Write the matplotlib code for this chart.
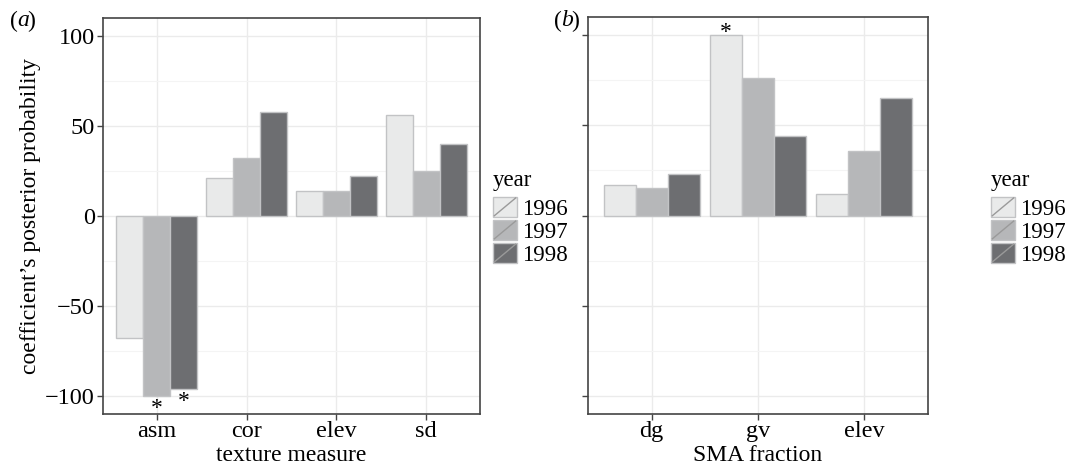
import matplotlib
matplotlib.use("Agg")
import matplotlib.pyplot as plt
import numpy as np
from matplotlib.patches import Rectangle
from matplotlib.lines import Line2D
from matplotlib.legend_handler import HandlerPatch

plt.rcParams['font.family'] = ['Liberation Serif', 'DejaVu Serif']

years = ['1996', '1997', '1998']
colors = ['#e9eaea', '#b6b7b9', '#6d6e71']
edge = '#c2c3c5'

cats_a = ['asm', 'cor', 'elev', 'sd']
vals_a = {
    '1996': [-68, 21, 14, 56],
    '1997': [-100, 32, 14, 25],
    '1998': [-96, 58, 22, 40],
}
cats_b = ['dg', 'gv', 'elev']
vals_b = {
    '1996': [17, 100, 12],
    '1997': [15, 76, 36],
    '1998': [23, 44, 65],
}
# significance markers: (category index, year index)
stars_a = [(0, 1), (0, 2)]
stars_b = [(1, 0)]

W, H = 1072, 470
fig = plt.figure(figsize=(W / 100, H / 100), dpi=100)

def px_axes(l, t, r, b):
    return fig.add_axes([l / W, 1 - b / H, (r - l) / W, (b - t) / H])

ax_a = px_axes(103, 18, 480, 414)
ax_b = px_axes(588, 17, 928, 414)

bw = 0.3
fs_tick = 17.5
fs_title = 17
fs_leg = 16.5

class SlashHandler(HandlerPatch):
    def create_artists(self, legend, orig_handle, xdescent, ydescent, width, height, fontsize, trans):
        r = Rectangle((-xdescent, -ydescent), width, height,
                      facecolor=orig_handle.get_facecolor(), edgecolor=edge, lw=1.0, transform=trans)
        ln = Line2D([-xdescent + 1, -xdescent + width - 1], [-ydescent + 1, -ydescent + height - 1],
                    color='#9a9a9a', lw=1.0, transform=trans)
        return [r, ln]

def draw(ax, cats, vals, stars, xlabel, show_ylabels):
    x = np.arange(1, len(cats) + 1)
    handles = []
    for i, y in enumerate(years):
        ax.bar(x + (i - 1) * bw, vals[y], width=bw, color=colors[i], edgecolor=edge,
               linewidth=1.0, zorder=3)
        handles.append(Rectangle((0, 0), 1, 1, facecolor=colors[i], edgecolor=edge))
    for ci, yi in stars:
        v = vals[years[yi]][ci]
        xs = x[ci] + (yi - 1) * bw
        if v < 0:
            ax.text(xs, v - 7, '*', ha='center', va='center', fontsize=17, zorder=4)
        else:
            ax.text(xs, v + 1.5, '*', ha='center', va='center', fontsize=17, zorder=4)
    ax.set_xlim(0.4, len(cats) + 0.6)
    ax.set_ylim(-110, 110)
    ax.set_xticks(x)
    ax.set_xticklabels(cats, fontsize=fs_tick)
    ax.set_yticks([-100, -50, 0, 50, 100])
    ax.set_yticks([-75, -25, 25, 75], minor=True)
    if show_ylabels:
        ax.set_yticklabels(['\u2212100', '\u221250', '0', '50', '100'], fontsize=fs_tick)
    else:
        ax.set_yticklabels([])
    ax.grid(True, which='major', color='#ebebeb', lw=1.0, zorder=0)
    ax.grid(True, which='minor', axis='y', color='#f4f4f4', lw=0.8, zorder=0)
    ax.tick_params(which='major', length=4, width=1, color='#444444', pad=2)
    ax.tick_params(axis='x', which='major', pad=1)
    ax.tick_params(which='minor', length=0)
    for s in ax.spines.values():
        s.set_color('#444444')
        s.set_linewidth(1.2)
    ax.set_xlabel(xlabel, fontsize=fs_title, labelpad=2)
    return handles

h = draw(ax_a, cats_a, vals_a, stars_a, 'texture measure', True)
draw(ax_b, cats_b, vals_b, stars_b, 'SMA fraction', False)
ax_a.set_ylabel('coefficient\u2019s posterior probability', fontsize=fs_title, labelpad=3)

for lx in (493, 991):
    leg = fig.legend(h, years, title='year', loc='upper left', bbox_to_anchor=(lx / W, 1 - 170 / H),
                     frameon=False, fontsize=fs_leg, title_fontsize=fs_leg, handlelength=1.05,
                     handleheight=1.0, labelspacing=0.0, handletextpad=0.2, borderaxespad=0,
                     borderpad=0, handler_map={Rectangle: SlashHandler()}, alignment='left')
    leg._legend_box.sep = 4

def panel_label(xp, letter):
    yc = 1 - 21 / H
    fig.text(xp / W, yc, '(', fontsize=fs_title, va='center', ha='left')
    fig.text((xp + 7) / W, yc, letter, fontsize=fs_title, va='center', ha='left', style='italic')
    fig.text((xp + 17) / W, yc, ')', fontsize=fs_title, va='center', ha='left')

panel_label(10, 'a')
panel_label(554, 'b')

fig.savefig('out.png', dpi=100)
